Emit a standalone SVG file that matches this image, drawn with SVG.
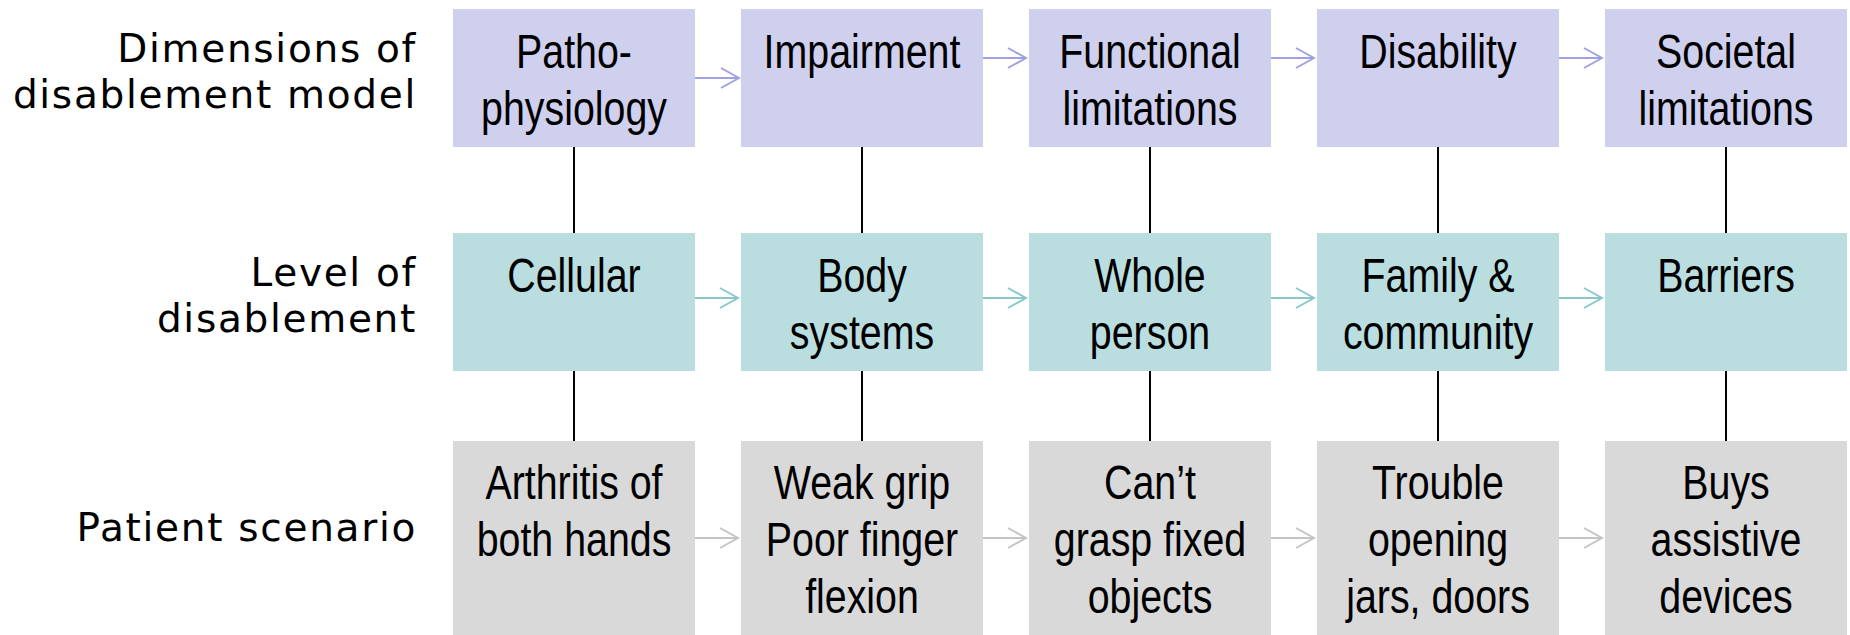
<svg xmlns="http://www.w3.org/2000/svg" width="1850" height="635" viewBox="0 0 1850 635">
  <style>
    .box-a { fill: #cfcfee; }
    .box-b { fill: #badde0; }
    .box-c { fill: #d9d9d9; }
    /* box captions: Arial metrics squeezed horizontally to a narrow face */
    .t { font-family: "Liberation Sans", Arial, sans-serif; font-size: 48px; fill: #000; text-anchor: middle; }
    .lbl { font-family: "DejaVu Sans", Verdana, sans-serif; font-size: 39px; fill: #000; text-anchor: end; letter-spacing: 1.7px; }
    .link { stroke: #000; stroke-width: 2; fill: none; }
    .fa { stroke: #a0a0e2; stroke-width: 2; fill: none; marker-end: url(#ha); }
    .fb { stroke: #88c8cc; stroke-width: 2; fill: none; marker-end: url(#hb); }
    .fc { stroke: #c4c4c4; stroke-width: 2; fill: none; marker-end: url(#hc); }
  </style>
  <defs>
    <marker id="ha" markerUnits="userSpaceOnUse" markerWidth="22" markerHeight="24" refX="20" refY="12" orient="auto">
      <path d="M2,2 L20,12 L2,22" fill="none" stroke="#a0a0e2" stroke-width="2"/>
    </marker>
    <marker id="hb" markerUnits="userSpaceOnUse" markerWidth="22" markerHeight="24" refX="20" refY="12" orient="auto">
      <path d="M2,2 L20,12 L2,22" fill="none" stroke="#88c8cc" stroke-width="2"/>
    </marker>
    <marker id="hc" markerUnits="userSpaceOnUse" markerWidth="22" markerHeight="24" refX="20" refY="12" orient="auto">
      <path d="M2,2 L20,12 L2,22" fill="none" stroke="#c4c4c4" stroke-width="2"/>
    </marker>
  </defs>

  <!-- row headings -->
  <g id="label-dimensions">
    <text class="lbl" x="417" y="62">Dimensions of</text>
    <text class="lbl" x="417" y="108">disablement model</text>
  </g>
  <g id="label-level">
    <text class="lbl" x="417" y="286">Level of</text>
    <text class="lbl" x="417" y="332">disablement</text>
  </g>
  <g id="label-scenario">
    <text class="lbl" x="417" y="541">Patient scenario</text>
  </g>

  <!-- connectors -->
  <g id="connectors">
    <!-- vertical ties between rows -->
    <path class="link" d="M574,147 V233 M862,147 V233 M1150,147 V233 M1438,147 V233 M1726,147 V233"/>
    <path class="link" d="M574,371 V441 M862,371 V441 M1150,371 V441 M1438,371 V441 M1726,371 V441"/>
    <!-- row 1 flow -->
    <line class="fa" x1="695" y1="78" x2="739" y2="78"/>
    <line class="fa" x1="983" y1="58" x2="1026" y2="58"/>
    <line class="fa" x1="1271" y1="58" x2="1314" y2="58"/>
    <line class="fa" x1="1559" y1="58" x2="1602" y2="58"/>
    <!-- row 2 flow -->
    <line class="fb" x1="695" y1="298" x2="738" y2="298"/>
    <line class="fb" x1="983" y1="298" x2="1026" y2="298"/>
    <line class="fb" x1="1271" y1="298" x2="1314" y2="298"/>
    <line class="fb" x1="1559" y1="298" x2="1602" y2="298"/>
    <!-- row 3 flow -->
    <line class="fc" x1="695" y1="538" x2="738" y2="538"/>
    <line class="fc" x1="983" y1="538" x2="1026" y2="538"/>
    <line class="fc" x1="1271" y1="538" x2="1314" y2="538"/>
    <line class="fc" x1="1559" y1="538" x2="1602" y2="538"/>
  </g>

  <!-- row 1: dimensions of disablement model -->
  <g id="pathophysiology">
    <rect class="box-a" x="453" y="9" width="242" height="138"/>
    <text class="t" transform="translate(574 68) scale(0.82 1)">Patho-</text>
    <text class="t" transform="translate(574 125) scale(0.82 1)">physiology</text>
  </g>
  <g id="impairment">
    <rect class="box-a" x="741" y="9" width="242" height="138"/>
    <text class="t" transform="translate(862 68) scale(0.82 1)">Impairment</text>
  </g>
  <g id="functional-limitations">
    <rect class="box-a" x="1029" y="9" width="242" height="138"/>
    <text class="t" transform="translate(1150 68) scale(0.82 1)">Functional</text>
    <text class="t" transform="translate(1150 125) scale(0.82 1)">limitations</text>
  </g>
  <g id="disability">
    <rect class="box-a" x="1317" y="9" width="242" height="138"/>
    <text class="t" transform="translate(1438 68) scale(0.82 1)">Disability</text>
  </g>
  <g id="societal-limitations">
    <rect class="box-a" x="1605" y="9" width="242" height="138"/>
    <text class="t" transform="translate(1726 68) scale(0.82 1)">Societal</text>
    <text class="t" transform="translate(1726 125) scale(0.82 1)">limitations</text>
  </g>

  <!-- row 2: level of disablement -->
  <g id="cellular">
    <rect class="box-b" x="453" y="233" width="242" height="138"/>
    <text class="t" transform="translate(574 292) scale(0.82 1)">Cellular</text>
  </g>
  <g id="body-systems">
    <rect class="box-b" x="741" y="233" width="242" height="138"/>
    <text class="t" transform="translate(862 292) scale(0.82 1)">Body</text>
    <text class="t" transform="translate(862 349) scale(0.82 1)">systems</text>
  </g>
  <g id="whole-person">
    <rect class="box-b" x="1029" y="233" width="242" height="138"/>
    <text class="t" transform="translate(1150 292) scale(0.82 1)">Whole</text>
    <text class="t" transform="translate(1150 349) scale(0.82 1)">person</text>
  </g>
  <g id="family-community">
    <rect class="box-b" x="1317" y="233" width="242" height="138"/>
    <text class="t" transform="translate(1438 292) scale(0.82 1)">Family &amp;</text>
    <text class="t" transform="translate(1438 349) scale(0.82 1)">community</text>
  </g>
  <g id="barriers">
    <rect class="box-b" x="1605" y="233" width="242" height="138"/>
    <text class="t" transform="translate(1726 292) scale(0.82 1)">Barriers</text>
  </g>

  <!-- row 3: patient scenario -->
  <g id="arthritis">
    <rect class="box-c" x="453" y="441" width="242" height="194"/>
    <text class="t" transform="translate(574 499) scale(0.82 1)">Arthritis of</text>
    <text class="t" transform="translate(574 556) scale(0.82 1)">both hands</text>
  </g>
  <g id="weak-grip">
    <rect class="box-c" x="741" y="441" width="242" height="194"/>
    <text class="t" transform="translate(862 499) scale(0.82 1)">Weak grip</text>
    <text class="t" transform="translate(862 556) scale(0.82 1)">Poor finger</text>
    <text class="t" transform="translate(862 613) scale(0.82 1)">flexion</text>
  </g>
  <g id="cant-grasp">
    <rect class="box-c" x="1029" y="441" width="242" height="194"/>
    <text class="t" transform="translate(1150 499) scale(0.82 1)">Can’t</text>
    <text class="t" transform="translate(1150 556) scale(0.82 1)">grasp fixed</text>
    <text class="t" transform="translate(1150 613) scale(0.82 1)">objects</text>
  </g>
  <g id="trouble-opening">
    <rect class="box-c" x="1317" y="441" width="242" height="194"/>
    <text class="t" transform="translate(1438 499) scale(0.82 1)">Trouble</text>
    <text class="t" transform="translate(1438 556) scale(0.82 1)">opening</text>
    <text class="t" transform="translate(1438 613) scale(0.82 1)">jars, doors</text>
  </g>
  <g id="assistive-devices">
    <rect class="box-c" x="1605" y="441" width="242" height="194"/>
    <text class="t" transform="translate(1726 499) scale(0.82 1)">Buys</text>
    <text class="t" transform="translate(1726 556) scale(0.82 1)">assistive</text>
    <text class="t" transform="translate(1726 613) scale(0.82 1)">devices</text>
  </g>
</svg>
